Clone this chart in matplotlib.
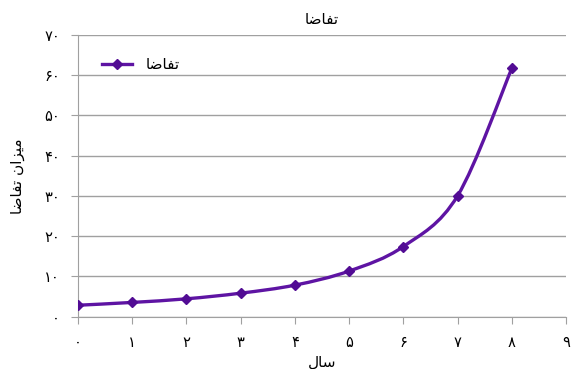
import matplotlib.pyplot as plt
import numpy as np
from matplotlib.lines import Line2D
from matplotlib.patches import PathPatch
from matplotlib.path import Path

# demand per year
years = [0, 1, 2, 3, 4, 5, 6, 7, 8]
demand = [2.8, 3.5, 4.4, 5.8, 7.8, 11.3, 17.4, 30.0, 61.7]

x_ticks = list(range(10))
y_ticks = list(range(0, 80, 10))

# Persian labels, written in shaped presentation forms (visual order)
title_txt = '\uFE8E\uFEBF\uFE8E\uFED4\uFE97'           # تقاضا
xlabel_txt = '\uFEDD\uFE8E\uFEB3'                       # سال
ylabel_txt = title_txt + ' ' + '\uFEE5\uFE8D\uFEB0\uFEF4\uFEE3'  # میزان تقاضا

fa_digits = '۰۱۲۳۴۵۶۷۸۹'


def fa(n):
    return ''.join(fa_digits[int(c)] for c in str(n))


def smooth_path(xs, ys):
    # Catmull-Rom style bezier through the points
    p = np.column_stack([xs, ys]).astype(float)
    verts = [p[0]]
    codes = [Path.MOVETO]
    n = len(p)
    for i in range(n - 1):
        p0 = p[max(i - 1, 0)]
        p1 = p[i]
        p2 = p[i + 1]
        p3 = p[min(i + 2, n - 1)]
        c1 = p1 + (p2 - p0) / 6
        c2 = p2 - (p3 - p1) / 6
        verts += [c1, c2, p2]
        codes += [Path.CURVE4] * 3
    return Path(verts, codes)


purple = '#5e14a3'
marker_col = '#520c94'
grid_col = '#a0a0a0'

fig = plt.figure(figsize=(5.72, 3.69), dpi=100)
ax = fig.add_axes([78 / 572, 1 - 316.5 / 369, 488 / 572, 281.5 / 369])

ax.add_patch(PathPatch(smooth_path(years, demand), facecolor='none',
                       edgecolor=purple, lw=2.4, zorder=3))
ax.plot(years, demand, linestyle='none', marker='D', ms=5.5,
        color=marker_col, zorder=4)

ax.set_xlim(0, 9)
ax.set_ylim(0, 70)
ax.set_xticks(x_ticks)
ax.set_xticklabels([fa(v) for v in x_ticks])
ax.set_yticks(y_ticks)
ax.set_yticklabels([fa(v) for v in y_ticks])
ax.yaxis.grid(True, color=grid_col, lw=1)
ax.set_axisbelow(True)

for s in ['top', 'right']:
    ax.spines[s].set_visible(False)
for s in ['left', 'bottom']:
    ax.spines[s].set_color(grid_col)
ax.tick_params(axis='both', direction='out', length=5, color=grid_col,
               labelsize=10.5, pad=8)

ax.set_title(title_txt, fontsize=11, pad=8)
ax.set_xlabel(xlabel_txt, fontsize=11, labelpad=4)
ax.set_ylabel(ylabel_txt, fontsize=11, labelpad=14)

handle = Line2D([], [], color=purple, lw=2.4, marker='D', ms=5.5,
                markerfacecolor=marker_col, markeredgecolor=marker_col)
ax.legend([handle], [title_txt], loc='upper left', frameon=False,
          bbox_to_anchor=(0.02, 0.97), fontsize=11, handlelength=2.0,
          handletextpad=0.9)

fig.savefig('out.png', dpi=100)
